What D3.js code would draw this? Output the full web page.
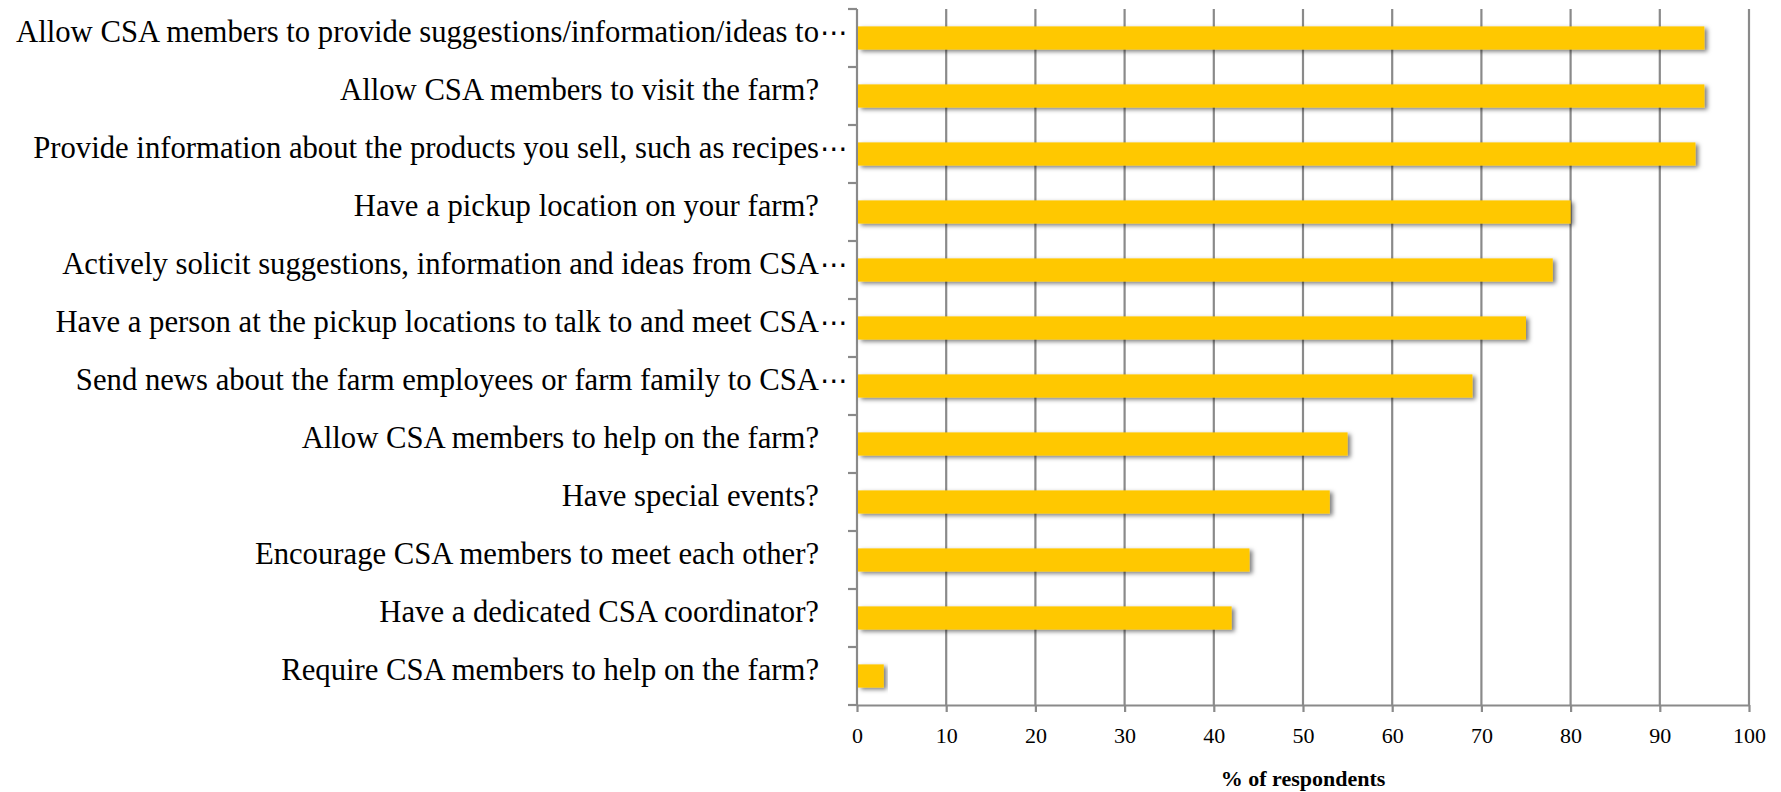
<!DOCTYPE html>
<html>
<head>
<meta charset="utf-8">
<script src="https://cdn.jsdelivr.net/npm/d3@7"></script>
<style>
  html, body { margin: 0; padding: 0; background: #fff; }
  svg { display: block; }
  text { font-family: "Liberation Serif", "Times New Roman", serif; fill: #000; }
</style>
</head>
<body>
<svg id="chart" width="1781" height="792"></svg>
<script>
// Survey items, top to bottom (long items are cut off with a trailing ellipsis)
const categories = [
  "Allow CSA members to provide suggestions/information/ideas to⋯",
  "Allow CSA members to visit the farm?",
  "Provide information about the products you sell, such as recipes⋯",
  "Have a pickup location on your farm?",
  "Actively solicit suggestions, information and ideas from CSA⋯",
  "Have a person at the pickup locations to talk to and meet CSA⋯",
  "Send news about the farm employees or farm family to CSA⋯",
  "Allow CSA members to help on the farm?",
  "Have special events?",
  "Encourage CSA members to meet each other?",
  "Have a dedicated CSA coordinator?",
  "Require CSA members to help on the farm?"
];
// Share of respondents (%)
const values = [95, 95, 94, 80, 78, 75, 69, 55, 53, 44, 42, 3];
const xTicks = [0, 10, 20, 30, 40, 50, 60, 70, 80, 90, 100];
const xTitle = "% of respondents";

const svg = d3.select("#chart");
const plotLeft = 857, plotRight = 1749, plotTop = 9, plotBottom = 705;
const gridColor = "#8a8a8a";
const ELLIPSIS = "⋯";

const x = d3.scaleLinear().domain([0, 100]).range([plotLeft, plotRight]);
const y = d3.scaleBand().domain(categories).range([plotTop, plotBottom])
  .paddingInner(0.6).paddingOuter(0.3);

// soft drop shadow under bars
const defs = svg.append("defs");
const f = defs.append("filter").attr("id", "shadow")
  .attr("x", "-5%").attr("y", "-40%").attr("width", "120%").attr("height", "200%");
f.append("feDropShadow").attr("dx", 3).attr("dy", 2).attr("stdDeviation", 2.2)
  .attr("flood-color", "#000").attr("flood-opacity", 0.5);

// vertical gridlines
svg.append("g").selectAll("line").data(xTicks.slice(1)).join("line")
  .attr("x1", d => x(d)).attr("x2", d => x(d))
  .attr("y1", plotTop).attr("y2", plotBottom)
  .attr("stroke", gridColor).attr("stroke-width", 2.2);

// x axis
const xAxis = svg.append("g").attr("transform", `translate(0,${plotBottom})`)
  .call(d3.axisBottom(x).tickValues(xTicks).tickSize(7).tickSizeOuter(0).tickPadding(15));
xAxis.attr("font-family", null).attr("font-size", null);
xAxis.select(".domain").attr("stroke", gridColor).attr("stroke-width", 2.2);
xAxis.selectAll(".tick line").attr("stroke", gridColor).attr("stroke-width", 2.2);
xAxis.selectAll(".tick text")
  .style("font-size", "22px").attr("fill", "#000").attr("dy", "0.72em");

// y axis with ticks between categories
const bounds = d3.range(categories.length + 1).map(i => plotTop + i * y.step());
svg.append("line").attr("x1", plotLeft).attr("x2", plotLeft)
  .attr("y1", plotTop).attr("y2", plotBottom)
  .attr("stroke", gridColor).attr("stroke-width", 2.2);
svg.append("g").selectAll("line").data(bounds).join("line")
  .attr("x1", plotLeft - 9).attr("x2", plotLeft).attr("y1", d => d).attr("y2", d => d)
  .attr("stroke", gridColor).attr("stroke-width", 2.2);

// bars
svg.append("g").selectAll("rect").data(values).join("rect")
  .attr("x", x(0) + 1)
  .attr("y", (d, i) => y(categories[i]))
  .attr("width", d => x(d) - x(0) - 1)
  .attr("height", y.bandwidth())
  .attr("fill", "#ffc800")
  .attr("filter", "url(#shadow)");

// category labels
const labelX = 819;
const lab = svg.append("g").selectAll("g").data(categories).join("g")
  .attr("transform", d => `translate(0,${y(d) + y.bandwidth() / 2 + 4})`);
lab.append("text")
  .attr("x", labelX).attr("text-anchor", "end")
  .style("font-size", "30.7px")
  .text(d => d.endsWith(ELLIPSIS) ? d.slice(0, -1) : d);
lab.filter(d => d.endsWith(ELLIPSIS)).append("text")
  .attr("x", labelX + 1).attr("y", 0)
  .style("font-family", "'DejaVu Sans', sans-serif")
  .style("font-size", "28px")
  .text(ELLIPSIS);

// axis title
svg.append("text")
  .attr("x", (plotLeft + plotRight) / 2).attr("y", 786)
  .attr("text-anchor", "middle")
  .style("font-weight", "bold").style("font-size", "22px")
  .text(xTitle);
</script>
</body>
</html>
